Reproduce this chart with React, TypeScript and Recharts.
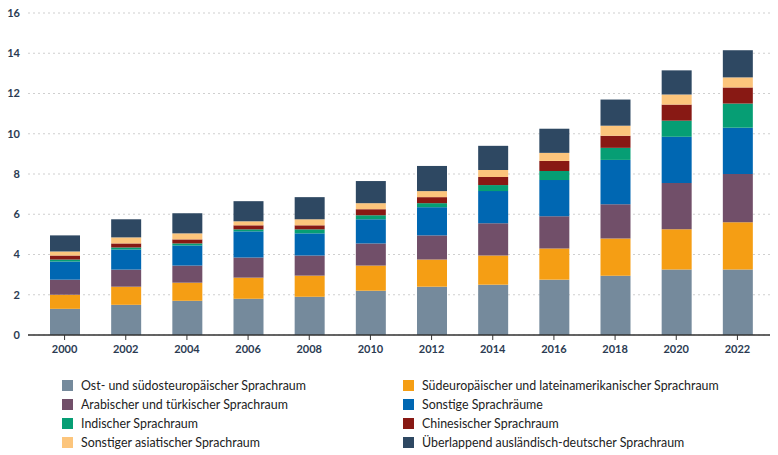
import { BarChart, Bar, XAxis, YAxis, CartesianGrid } from 'recharts';

const years = ['2000', '2002', '2004', '2006', '2008', '2010', '2012', '2014', '2016', '2018', '2020', '2022'];

const ostSuedost = [1.3, 1.5, 1.7, 1.8, 1.9, 2.2, 2.4, 2.5, 2.75, 2.95, 3.25, 3.25];
const suedLatein = [0.7, 0.9, 0.9, 1.05, 1.05, 1.25, 1.35, 1.45, 1.55, 1.85, 2.0, 2.35];
const arabTuerk = [0.75, 0.85, 0.85, 1.0, 1.0, 1.1, 1.2, 1.6, 1.6, 1.7, 2.3, 2.4];
const sonstige = [0.9, 1.0, 1.0, 1.3, 1.1, 1.2, 1.4, 1.6, 1.8, 2.2, 2.3, 2.3];
const indisch = [0.1, 0.1, 0.1, 0.1, 0.2, 0.2, 0.2, 0.3, 0.45, 0.6, 0.8, 1.2];
const chinesisch = [0.2, 0.2, 0.2, 0.2, 0.2, 0.3, 0.3, 0.4, 0.5, 0.6, 0.8, 0.8];
const asiatisch = [0.2, 0.3, 0.3, 0.2, 0.3, 0.3, 0.3, 0.35, 0.4, 0.5, 0.5, 0.5];
const ueberlappend = [0.8, 0.9, 1.0, 1.0, 1.1, 1.1, 1.25, 1.2, 1.2, 1.3, 1.2, 1.35];

const yTicks = [0, 2, 4, 6, 8, 10, 12, 14, 16];

const series = [
  { key: 'ost', name: 'Ost- und südosteuropäischer Sprachraum', color: '#758a9c', values: ostSuedost },
  { key: 'sued', name: 'Südeuropäischer und lateinamerikanischer Sprachraum', color: '#f59e14', values: suedLatein },
  { key: 'arab', name: 'Arabischer und türkischer Sprachraum', color: '#714f69', values: arabTuerk },
  { key: 'sonst', name: 'Sonstige Sprachräume', color: '#0067b2', values: sonstige },
  { key: 'ind', name: 'Indischer Sprachraum', color: '#069e74', values: indisch },
  { key: 'chin', name: 'Chinesischer Sprachraum', color: '#881914', values: chinesisch },
  { key: 'asia', name: 'Sonstiger asiatischer Sprachraum', color: '#fcc57c', values: asiatisch },
  { key: 'ueber', name: 'Überlappend ausländisch-deutscher Sprachraum', color: '#2e4862', values: ueberlappend },
];

const data = years.map((year, i) => {
  const row: Record<string, string | number> = { year };
  series.forEach(s => { row[s.key] = s.values[i]; });
  return row;
});

const tickStyle = { fontSize: 11, fill: '#2b3b52', fontWeight: 700, fontFamily: 'Lato, sans-serif' };

export default function App() {
  return (
    <div style={{ position: 'absolute', left: 0, top: 0, width: 778, height: 455, background: '#fff', fontFamily: 'Lato, sans-serif' }}>
      <BarChart width={778} height={360} data={data} margin={{ top: 13, right: 8, bottom: 0, left: 0 }}>
        <CartesianGrid vertical={false} stroke="#cfcfcf" strokeDasharray="2 3" />
        <XAxis dataKey="year" tick={tickStyle} tickLine={{ stroke: '#333' }} tickSize={5} tickMargin={5}
          axisLine={{ stroke: '#333', strokeWidth: 1.5 }} height={25} padding={{ left: 6, right: 2 }} interval={0} />
        <YAxis domain={[0, 16]} ticks={yTicks} tick={tickStyle} tickLine={false} axisLine={false}
          width={28} tickSize={6} tickMargin={2} />
        {series.map(s => (
          <Bar key={s.key} dataKey={s.key} name={s.name} stackId="a" fill={s.color} barSize={30} isAnimationActive={false} />
        ))}
      </BarChart>
      <div style={{ position: 'absolute', left: 62, top: 378, display: 'grid', gridTemplateColumns: '341px 340px', rowGap: 5.3, fontSize: 12.4, color: '#222' }}>
        {series.map(s => (
          <div key={s.key} style={{ display: 'flex', alignItems: 'center', height: 14 }}>
            <span style={{ width: 11, height: 11, background: s.color, display: 'inline-block', marginRight: 8 }} />
            <span>{s.name}</span>
          </div>
        ))}
      </div>
    </div>
  );
}
